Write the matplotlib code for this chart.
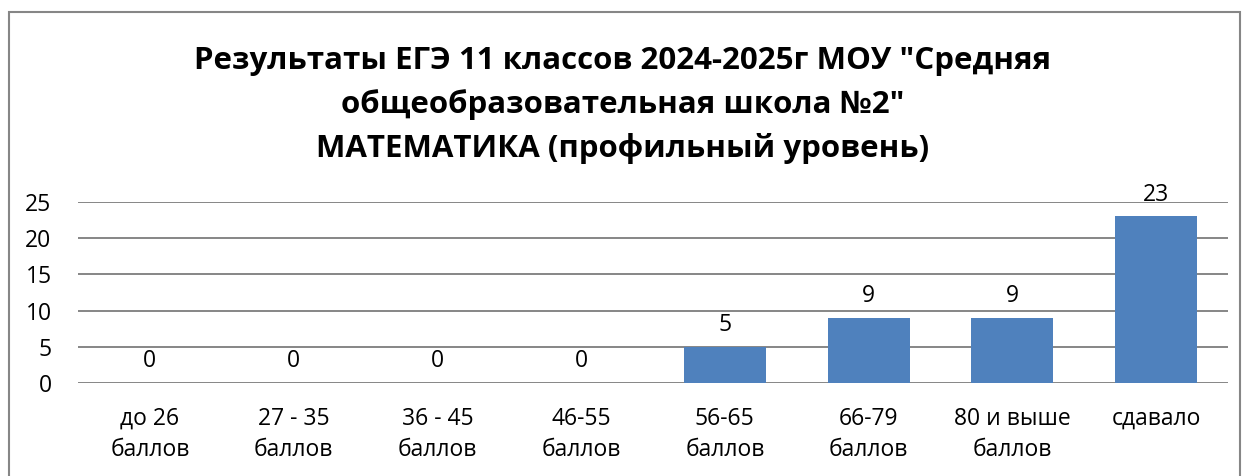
import matplotlib.pyplot as plt
from matplotlib.patches import Rectangle

plt.rcParams['font.family'] = ['Open Sans', 'DejaVu Sans']

categories = ['до 26\nбаллов', '27 - 35\nбаллов', '36 - 45\nбаллов', '46-55\nбаллов',
              '56-65\nбаллов', '66-79\nбаллов', '80 и выше\nбаллов', 'сдавало']
counts = [0, 0, 0, 0, 5, 9, 9, 23]
yticks = [0, 5, 10, 15, 20, 25]

fig = plt.figure(figsize=(12.46, 4.76), dpi=100)
ax = fig.add_axes([78 / 1246, 1 - 383 / 476, 1150 / 1246, 181 / 476])

x = range(len(categories))
ax.bar(x, counts, width=0.57, color='#4F81BD', zorder=3)
for xi, v in zip(x, counts):
    ax.annotate(str(v), (xi, v), xytext=(0, 7), textcoords='offset points',
                ha='center', va='bottom', fontsize=16.5)

ax.set_xlim(-0.5, len(categories) - 0.5)
ax.set_ylim(0, 25)
ax.set_yticks(yticks)
ax.set_xticks(list(x))
ax.set_xticklabels(categories, fontsize=16.5, linespacing=1.4)
ax.tick_params(axis='both', length=0, labelsize=16.5)
ax.tick_params(axis='x', pad=17)
ax.tick_params(axis='y', pad=19)
ax.grid(axis='y', color='#868686', linewidth=1.4, zorder=0)
for s in ax.spines.values():
    s.set_visible(False)

fig.text(0.5, 1 - 105 / 476,
         'Результаты ЕГЭ 11 классов 2024-2025г МОУ "Средняя\n'
         'общеобразовательная школа №2"\n'
         'МАТЕМАТИКА (профильный уровень)',
         ha='center', va='center', fontsize=22.5, fontweight='bold', linespacing=1.55)

fig.patches.append(Rectangle((9 / 1246, -0.1), 1231 / 1246, 1.1 - 12 / 476,
                             transform=fig.transFigure, fill=False,
                             edgecolor='#868686', linewidth=1.5))

fig.savefig('out.png', dpi=100)
